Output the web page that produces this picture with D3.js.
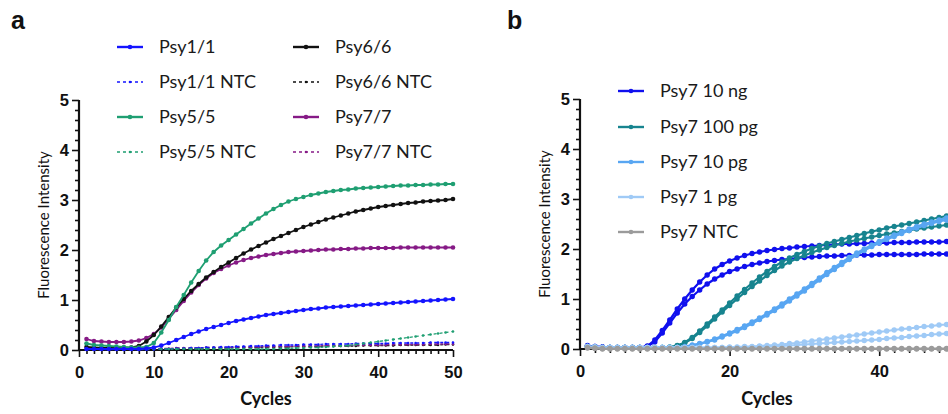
<!DOCTYPE html>
<html>
<head>
<meta charset="utf-8">
<script src="https://cdn.jsdelivr.net/npm/d3@7"></script>
<style>
  html, body { margin: 0; padding: 0; background: #fff; overflow: hidden; }
  svg { display: block; font-family: Lato, "Open Sans", sans-serif; }
  .tick text { font-weight: bold; font-size: 16.5px; fill: #111; }
  .tick line { stroke: #111; stroke-width: 1.6; }
  .domain { display: none; }
</style>
</head>
<body>
<script>
// qPCR amplification curves, two panels (a: primer pairs, b: Psy7 dilution series)

const cycles = d3.range(1, 51);

//  Panel a series 
const psy11 = [0.02,0.02,0.02,0.02,0.02,0.02,0.02,0.02,0.03,0.05,
  0.09,0.14,0.2,0.26,0.32,0.37,0.42,0.46,0.5,0.54,
  0.58,0.61,0.64,0.67,0.7,0.72,0.74,0.76,0.78,0.8,
  0.82,0.83,0.85,0.86,0.87,0.88,0.89,0.9,0.91,0.92,
  0.93,0.94,0.95,0.96,0.97,0.98,0.99,1.0,1.01,1.02];
const psy55 = [0.13,0.1,0.09,0.08,0.07,0.06,0.05,0.05,0.06,0.14,
  0.35,0.6,0.86,1.1,1.35,1.58,1.79,1.96,2.09,2.2,
  2.31,2.42,2.53,2.63,2.73,2.82,2.9,2.97,3.02,3.06,
  3.1,3.13,3.16,3.18,3.2,3.21,3.23,3.24,3.25,3.26,
  3.27,3.28,3.29,3.29,3.3,3.3,3.31,3.31,3.32,3.32];
const psy66 = [0.06,0.05,0.04,0.04,0.04,0.04,0.05,0.08,0.17,0.3,
  0.47,0.66,0.85,1.02,1.18,1.32,1.45,1.56,1.66,1.75,
  1.84,1.93,2.01,2.08,2.15,2.22,2.28,2.34,2.4,2.46,
  2.51,2.56,2.61,2.65,2.69,2.73,2.77,2.8,2.83,2.86,
  2.88,2.9,2.92,2.94,2.95,2.97,2.98,2.99,3.0,3.02];
const psy77 = [0.22,0.18,0.17,0.16,0.16,0.16,0.17,0.19,0.24,0.32,
  0.45,0.62,0.8,0.98,1.15,1.3,1.43,1.54,1.62,1.69,
  1.75,1.8,1.84,1.87,1.9,1.92,1.94,1.96,1.97,1.98,
  1.99,2.0,2.01,2.01,2.02,2.02,2.03,2.03,2.04,2.04,
  2.04,2.04,2.05,2.05,2.05,2.05,2.05,2.05,2.05,2.05];
const psy11ntc = [0.01,0.01,0.01,0.01,0.01,0.01,0.01,0.01,0.01,0.01,
  0.02,0.02,0.03,0.03,0.04,0.04,0.05,0.05,0.06,0.06,
  0.07,0.07,0.08,0.08,0.09,0.09,0.1,0.1,0.1,0.11,
  0.11,0.11,0.12,0.12,0.12,0.12,0.13,0.13,0.13,0.13,
  0.13,0.14,0.14,0.14,0.14,0.14,0.15,0.15,0.15,0.15];
const psy55ntc = [0.02,0.02,0.02,0.02,0.02,0.02,0.02,0.02,0.02,0.02,
  0.02,0.02,0.02,0.02,0.02,0.02,0.02,0.02,0.02,0.02,
  0.02,0.02,0.02,0.02,0.02,0.02,0.03,0.03,0.04,0.04,
  0.05,0.05,0.06,0.07,0.08,0.09,0.11,0.13,0.15,0.17,
  0.19,0.21,0.23,0.25,0.27,0.29,0.31,0.33,0.35,0.37];
const psy66ntc = [0.02,0.02,0.02,0.02,0.02,0.02,0.02,0.02,0.02,0.02,
  0.02,0.02,0.03,0.03,0.03,0.03,0.04,0.04,0.04,0.04,
  0.05,0.05,0.05,0.05,0.06,0.06,0.06,0.06,0.07,0.07,
  0.07,0.07,0.08,0.08,0.08,0.08,0.08,0.09,0.09,0.09,
  0.09,0.09,0.1,0.1,0.1,0.1,0.1,0.1,0.11,0.11];
const psy77ntc = [0.03,0.03,0.03,0.03,0.03,0.03,0.03,0.03,0.03,0.03,
  0.03,0.03,0.04,0.04,0.04,0.04,0.05,0.05,0.05,0.05,
  0.06,0.06,0.06,0.06,0.07,0.07,0.07,0.07,0.08,0.08,
  0.08,0.08,0.09,0.09,0.09,0.09,0.1,0.1,0.1,0.1,
  0.1,0.11,0.11,0.11,0.11,0.11,0.12,0.12,0.12,0.12];

//  Panel b series (two replicates each) 
const b10ngA = [0.07,0.05,0.04,0.03,0.03,0.03,0.03,0.03,0.06,0.18,
  0.37,0.58,0.8,1.0,1.18,1.34,1.48,1.6,1.69,1.76,
  1.82,1.87,1.91,1.94,1.97,1.99,2.01,2.02,2.04,2.05,
  2.06,2.07,2.08,2.09,2.1,2.1,2.11,2.11,2.12,2.12,
  2.12,2.13,2.13,2.13,2.14,2.14,2.14,2.14,2.15,2.15];
const b10ngB = [0.06,0.05,0.04,0.03,0.03,0.03,0.03,0.03,0.05,0.14,
  0.32,0.52,0.72,0.9,1.05,1.18,1.3,1.4,1.48,1.55,
  1.6,1.65,1.69,1.72,1.75,1.77,1.79,1.8,1.82,1.83,
  1.84,1.85,1.86,1.86,1.87,1.87,1.88,1.88,1.88,1.89,
  1.89,1.89,1.89,1.89,1.89,1.9,1.9,1.9,1.9,1.9];
const b100pgA = [0.05,0.04,0.03,0.03,0.03,0.03,0.03,0.03,0.03,0.03,
  0.03,0.04,0.07,0.13,0.23,0.36,0.5,0.64,0.78,0.92,
  1.06,1.19,1.32,1.44,1.55,1.65,1.74,1.82,1.89,1.95,
  2.01,2.06,2.11,2.15,2.19,2.23,2.27,2.31,2.35,2.38,
  2.42,2.45,2.48,2.51,2.54,2.57,2.6,2.63,2.66,2.69];
const b100pgB = [0.05,0.04,0.03,0.03,0.03,0.03,0.03,0.03,0.03,0.03,
  0.03,0.03,0.06,0.12,0.21,0.33,0.46,0.6,0.74,0.87,
  1.0,1.13,1.25,1.36,1.47,1.57,1.66,1.74,1.81,1.87,
  1.93,1.98,2.03,2.07,2.11,2.15,2.18,2.21,2.24,2.27,
  2.3,2.32,2.35,2.37,2.4,2.42,2.44,2.46,2.48,2.5];
const b10pgA = [0.05,0.04,0.03,0.03,0.03,0.03,0.03,0.03,0.03,0.03,
  0.03,0.03,0.03,0.05,0.08,0.11,0.15,0.2,0.26,0.32,
  0.39,0.46,0.54,0.62,0.71,0.8,0.9,1.0,1.1,1.2,
  1.31,1.42,1.53,1.63,1.73,1.83,1.92,2.0,2.08,2.15,
  2.22,2.28,2.34,2.4,2.45,2.5,2.54,2.58,2.62,2.65];
const b10pgB = [0.05,0.04,0.03,0.03,0.03,0.03,0.03,0.03,0.03,0.03,
  0.03,0.03,0.03,0.04,0.07,0.1,0.14,0.18,0.24,0.3,
  0.36,0.43,0.51,0.59,0.68,0.77,0.86,0.96,1.06,1.16,
  1.27,1.38,1.49,1.59,1.69,1.79,1.88,1.97,2.05,2.12,
  2.19,2.25,2.31,2.37,2.42,2.47,2.51,2.55,2.58,2.61];
const b1pgA = [0.05,0.04,0.03,0.03,0.03,0.03,0.03,0.03,0.03,0.03,
  0.03,0.03,0.03,0.03,0.03,0.03,0.03,0.03,0.03,0.04,
  0.04,0.05,0.05,0.06,0.07,0.08,0.09,0.11,0.12,0.14,
  0.16,0.18,0.2,0.22,0.24,0.26,0.28,0.3,0.32,0.34,
  0.36,0.38,0.4,0.41,0.43,0.45,0.46,0.48,0.49,0.51];
const b1pgB = [0.05,0.04,0.03,0.03,0.03,0.03,0.03,0.03,0.03,0.03,
  0.03,0.03,0.03,0.03,0.03,0.03,0.03,0.03,0.03,0.03,
  0.03,0.04,0.04,0.05,0.05,0.06,0.06,0.07,0.08,0.09,
  0.1,0.11,0.12,0.13,0.14,0.15,0.16,0.17,0.18,0.19,
  0.21,0.22,0.23,0.25,0.26,0.27,0.29,0.3,0.31,0.32];
const bNtcA = [0.03,0.02,0.01,0.01,0.01,0.01,0.01,0.01,0.01,0.01,
  0.01,0.01,0.01,0.01,0.01,0.01,0.01,0.01,0.01,0.01,
  0.01,0.01,0.01,0.01,0.01,0.01,0.01,0.01,0.01,0.01,
  0.01,0.01,0.01,0.01,0.01,0.01,0.01,0.01,0.01,0.01,
  0.01,0.01,0.01,0.01,0.01,0.01,0.01,0.01,0.01,0.01];
const bNtcB = [0.02,0.01,0.0,0.0,0.0,0.0,0.0,0.0,0.0,0.0,
  0.0,0.0,0.0,0.0,0.0,0.0,0.0,0.0,0.0,0.0,
  0.0,0.0,0.0,0.0,0.0,0.0,0.0,0.0,0.0,0.0,
  0.0,0.0,0.0,0.0,0.0,0.0,0.0,0.0,0.0,0.0,
  0.0,0.0,0.0,0.0,0.0,0.0,0.0,0.0,0.0,0.0];

const colA = { p11: '#1414ff', p55: '#1f9f72', p66: '#111111', p77: '#861a86' };
const colB = { ng10: '#1010ee', pg100: '#17848f', pg10: '#58a6f2', pg1: '#9fcaf6', ntc: '#9b9b9b' };

// drawing order = bottom to top
const seriesA = [
  { vals: psy66ntc, color: colA.p66, dash: true },
  { vals: psy77ntc, color: colA.p77, dash: true },
  { vals: psy11ntc, color: colA.p11, dash: true },
  { vals: psy55ntc, color: colA.p55, dash: true },
  { vals: psy77, color: colA.p77 },
  { vals: psy66, color: colA.p66 },
  { vals: psy55, color: colA.p55 },
  { vals: psy11, color: colA.p11 }
];
const seriesB = [
  { vals: b10ngA, color: colB.ng10 },
  { vals: b10ngB, color: colB.ng10 },
  { vals: b100pgA, color: colB.pg100 },
  { vals: b100pgB, color: colB.pg100 },
  { vals: b10pgA, color: colB.pg10 },
  { vals: b10pgB, color: colB.pg10 },
  { vals: b1pgA, color: colB.pg1 },
  { vals: b1pgB, color: colB.pg1 },
  { vals: bNtcA, color: colB.ntc },
  { vals: bNtcB, color: colB.ntc }
];

const legendA = [
  { name: 'Psy1/1', color: colA.p11 }, { name: 'Psy6/6', color: colA.p66 },
  { name: 'Psy1/1 NTC', color: colA.p11, dash: true }, { name: 'Psy6/6 NTC', color: colA.p66, dash: true },
  { name: 'Psy5/5', color: colA.p55 }, { name: 'Psy7/7', color: colA.p77 },
  { name: 'Psy5/5 NTC', color: colA.p55, dash: true }, { name: 'Psy7/7 NTC', color: colA.p77, dash: true }
];
const legendB = [
  { name: 'Psy7 10 ng', color: colB.ng10 },
  { name: 'Psy7 100 pg', color: colB.pg100 },
  { name: 'Psy7 10 pg', color: colB.pg10 },
  { name: 'Psy7 1 pg', color: colB.pg1 },
  { name: 'Psy7 NTC', color: colB.ntc }
];

const svg = d3.select('body').append('svg')
  .attr('width', 970)
  .attr('height', 414);

function drawPanel(p) {
  const x = d3.scaleLinear().domain([0, 50]).range([p.x0, p.x0 + 374]);
  const y = d3.scaleLinear().domain([0, 5]).range([p.y0, p.y0 - 250]);
  const g = svg.append('g');
  const fmt = d3.format('d');

  // y axis: minor every 0.2, major every 1
  g.append('g').attr('transform', `translate(${p.x0},0)`)
    .call(d3.axisLeft(y).tickValues(d3.range(0, 5.01, 0.2).filter(v => Math.abs(v - Math.round(v)) > 0.01))
      .tickSize(4).tickSizeOuter(0).tickFormat(''));
  g.append('g').attr('transform', `translate(${p.x0},0)`)
    .call(d3.axisLeft(y).tickValues([0, 1, 2, 3, 4, 5]).tickSize(7).tickSizeOuter(0).tickPadding(3).tickFormat(fmt));

  // x axis
  g.append('g').attr('transform', `translate(0,${p.y0})`)
    .call(d3.axisBottom(x).tickValues(d3.range(0, 51, p.xMinor).filter(v => v % p.xMajor !== 0))
      .tickSize(4).tickSizeOuter(0).tickFormat(''));
  g.append('g').attr('transform', `translate(0,${p.y0})`)
    .call(d3.axisBottom(x).tickValues(d3.range(0, 51, p.xMajor)).tickSize(7).tickSizeOuter(0).tickPadding(9).tickFormat(fmt));

  g.append('line').attr('x1', p.x0).attr('x2', p.x0).attr('y1', y(5)).attr('y2', y(0))
    .attr('stroke', '#111').attr('stroke-width', 2.2);
  g.append('line').attr('x1', p.x0 - 1).attr('x2', x(50)).attr('y1', p.y0).attr('y2', p.y0)
    .attr('stroke', '#111').attr('stroke-width', 2.2);

  // titles
  g.append('text')
    .attr('transform', `translate(${p.x0 - 35},${y(2.5)}) rotate(-90)`)
    .attr('text-anchor', 'middle').attr('dy', '0.35em')
    .attr('font-size', 15).attr('fill', '#111')
    .text('Fluorescence Intensity');
  g.append('text')
    .attr('x', x(25)).attr('y', 405)
    .attr('text-anchor', 'middle').attr('font-weight', 'bold')
    .attr('font-size', 18).attr('fill', '#111')
    .text('Cycles');
  g.append('text')
    .attr('x', p.labelX).attr('y', 29)
    .attr('font-family', '"Liberation Sans", Arial, sans-serif')
    .attr('font-weight', 'bold').attr('font-size', 25).attr('fill', '#111')
    .text(p.label);

  // curves
  const line = d3.line().x((d, i) => x(cycles[i])).y(d => y(d));
  p.series.forEach(s => {
    const sg = g.append('g');
    sg.append('path')
      .attr('d', line(s.vals))
      .attr('fill', 'none')
      .attr('stroke', s.color)
      .attr('stroke-width', s.dash ? 1.3 : p.lw)
      .attr('stroke-dasharray', s.dash ? '3,3' : null);
    sg.selectAll('circle')
      .data(s.vals)
      .enter().append('circle')
      .attr('cx', (d, i) => x(cycles[i]))
      .attr('cy', d => y(d))
      .attr('r', s.dash ? 1.3 : p.r)
      .attr('fill', s.color);
  });

  // legend
  const lg = g.append('g');
  p.legend.forEach((d, i) => {
    const lx = p.legX[i % p.legCols];
    const ly = p.legY[Math.floor(i / p.legCols)];
    lg.append('line').attr('x1', lx).attr('x2', lx + 26).attr('y1', ly).attr('y2', ly)
      .attr('stroke', d.color).attr('stroke-width', d.dash ? 1.3 : 2.4)
      .attr('stroke-dasharray', d.dash ? '3,3' : null);
    lg.append('circle').attr('cx', lx + 13).attr('cy', ly).attr('r', d.dash ? 1.3 : 2.3).attr('fill', d.color);
    lg.append('text').attr('x', lx + 42).attr('y', ly).attr('dy', '0.35em')
      .attr('font-size', 18).attr('fill', '#1a1a1a').text(d.name);
  });
}

drawPanel({
  x0: 79, y0: 350, xMajor: 10, xMinor: 1, label: 'a', labelX: 11,
  series: seriesA, lw: 1.8, r: 2.3,
  legend: legendA, legCols: 2, legX: [117, 293], legY: [47, 82, 117, 152]
});
drawPanel({
  x0: 580, y0: 349, xMajor: 20, xMinor: 2, label: 'b', labelX: 507,
  series: seriesB, lw: 2.2, r: 2.7,
  legend: legendB, legCols: 1, legX: [618], legY: [91, 127, 162, 197, 232]
});
</script>
</body>
</html>
